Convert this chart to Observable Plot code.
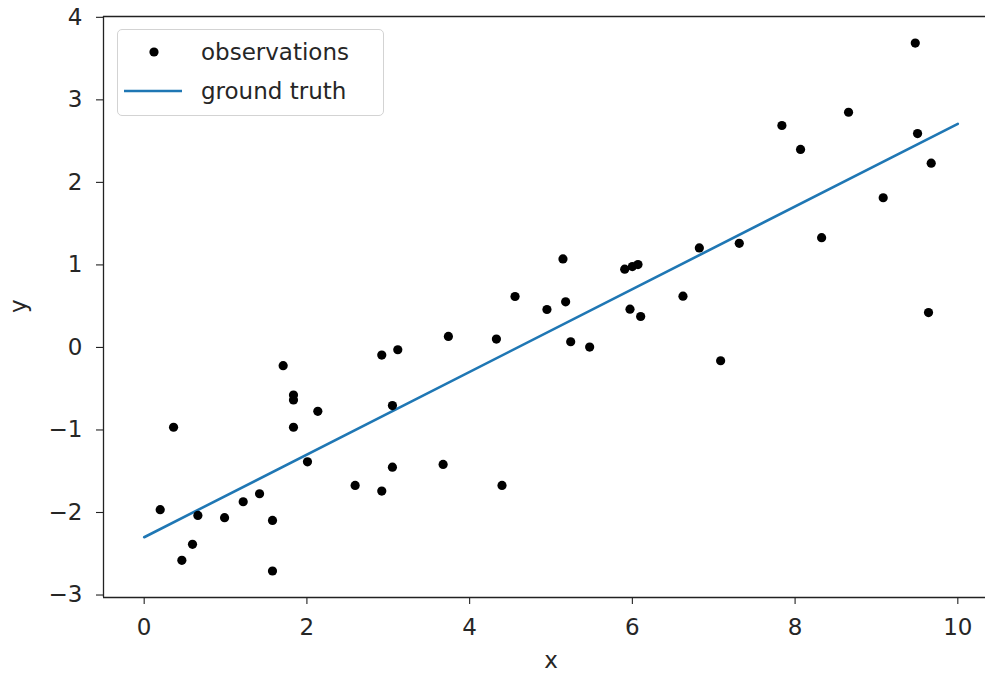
<!DOCTYPE html>
<html>
<head>
<meta charset="utf-8">
<script src="https://cdn.jsdelivr.net/npm/d3@7"></script>
<script src="https://cdn.jsdelivr.net/npm/@observablehq/plot@0.6"></script>
<style>
  html, body { margin: 0; padding: 0; overflow: hidden; background: white; }
  #wrap { position: relative; width: 985px; height: 677px; overflow: hidden; }
  .legendbox {
    position: absolute; left: 117px; top: 29px; width: 267px; height: 87px;
    border: 1px solid #d3d3d3; border-radius: 5px; background: rgba(255,255,255,0.8);
    box-sizing: border-box; overflow: hidden;
  }
</style>
</head>
<body>
<div id="wrap"></div>
<script>
// observations (x, y)
const obsX = [0.197, 0.361, 0.463, 0.594, 0.660, 0.988, 1.217, 1.418, 1.577, 1.577,
              1.708, 1.835, 1.835, 1.835, 2.134, 2.007, 2.593, 2.920, 2.920, 3.117,
              3.051, 3.051, 3.674, 3.739, 4.329, 4.398, 4.558, 4.950, 5.147, 5.180,
              5.242, 5.475, 5.906, 6.000, 6.069, 5.971, 6.102, 6.622, 6.823, 7.085,
              7.314, 7.838, 8.067, 8.326, 8.657, 9.083, 9.477, 9.505, 9.640, 9.673];
const obsY = [-1.966, -0.967, -2.580, -2.386, -2.035, -2.063, -1.870, -1.773, -2.096, -2.709,
              -0.221, -0.576, -0.636, -0.967, -0.774, -1.386, -1.672, -1.741, -0.092, -0.028,
              -0.705, -1.451, -1.418, 0.133, 0.101, -1.672, 0.617, 0.460, 1.073, 0.553,
              0.069, 0.005, 0.948, 0.980, 1.004, 0.464, 0.375, 0.621, 1.206, -0.161,
              1.262, 2.689, 2.399, 1.330, 2.850, 1.814, 3.688, 2.592, 0.423, 2.233];
// ground truth line
const truthX = [0, 10];
const truthY = [-2.3, 2.71];
// ticks
const xTicks = [0, 2, 4, 6, 8, 10];
const yTicks = [-3, -2, -1, 0, 1, 2, 3, 4];
const seriesNames = ["observations", "ground truth"];

const xDomain = [-0.5, 10.5];
const yDomain = [-3.03, 4.01];

const obs = obsX.map((x, i) => ({x, y: obsY[i]}));
const truth = truthX.map((x, i) => ({x, y: truthY[i]}));
const fmt = d => d < 0 ? "\u2212" + Math.abs(d) : String(d);

const chart = Plot.plot({
  width: 985,
  height: 677,
  marginLeft: 103,
  marginRight: -13,
  marginTop: 16,
  marginBottom: 80,
  x: {domain: xDomain, label: null},
  y: {domain: yDomain, label: null},
  style: {fontFamily: "DejaVu Sans", fontSize: "23px", color: "#262626", background: "white", overflow: "hidden"},
  marks: [
    Plot.axisX(xTicks, {tickSize: 7, tickPadding: 14, tickFormat: fmt, stroke: "#222", fill: "#262626", strokeWidth: 1.1}),
    Plot.axisY(yTicks, {tickSize: 7, tickPadding: 14, tickFormat: fmt, stroke: "#222", fill: "#262626", strokeWidth: 1.1}),
    Plot.line(truth, {x: "x", y: "y", stroke: "#1f77b4", strokeWidth: 2.6}),
    Plot.dot(obs, {x: "x", y: "y", r: 4.6, fill: "black", stroke: null}),
    // spines: left, bottom, top (the right spine falls outside the picture)
    Plot.ruleX([xDomain[0]], {stroke: "#222", strokeWidth: 1.3}),
    Plot.ruleY(yDomain, {stroke: "#222", strokeWidth: 1.3}),
    Plot.text(["x"], {frameAnchor: "bottom", dy: 70, fill: "#262626"}),
    Plot.text(["y"], {frameAnchor: "left", dx: -85, dy: 6, rotate: -90, fill: "#262626"})
  ]
});

const wrap = document.getElementById("wrap");
wrap.appendChild(chart);

// legend (inside the axes, upper left)
const legend = document.createElement("div");
legend.className = "legendbox";
wrap.appendChild(legend);
const lsvg = d3.select(legend).append("svg")
  .attr("width", 265).attr("height", 85)
  .style("display", "block")
  .attr("font-family", "DejaVu Sans").attr("font-size", 23);
lsvg.append("circle").attr("cx", 36).attr("cy", 22).attr("r", 4.6).attr("fill", "black");
lsvg.append("line").attr("x1", 6).attr("x2", 64).attr("y1", 61).attr("y2", 61)
  .attr("stroke", "#1f77b4").attr("stroke-width", 2.6);
lsvg.selectAll("text.lab").data(seriesNames).join("text")
  .attr("class", "lab")
  .attr("x", 83)
  .attr("y", (d, i) => i === 0 ? 22 : 61)
  .attr("dy", "0.35em")
  .attr("fill", "#262626")
  .text(d => d);
</script>
</body>
</html>
